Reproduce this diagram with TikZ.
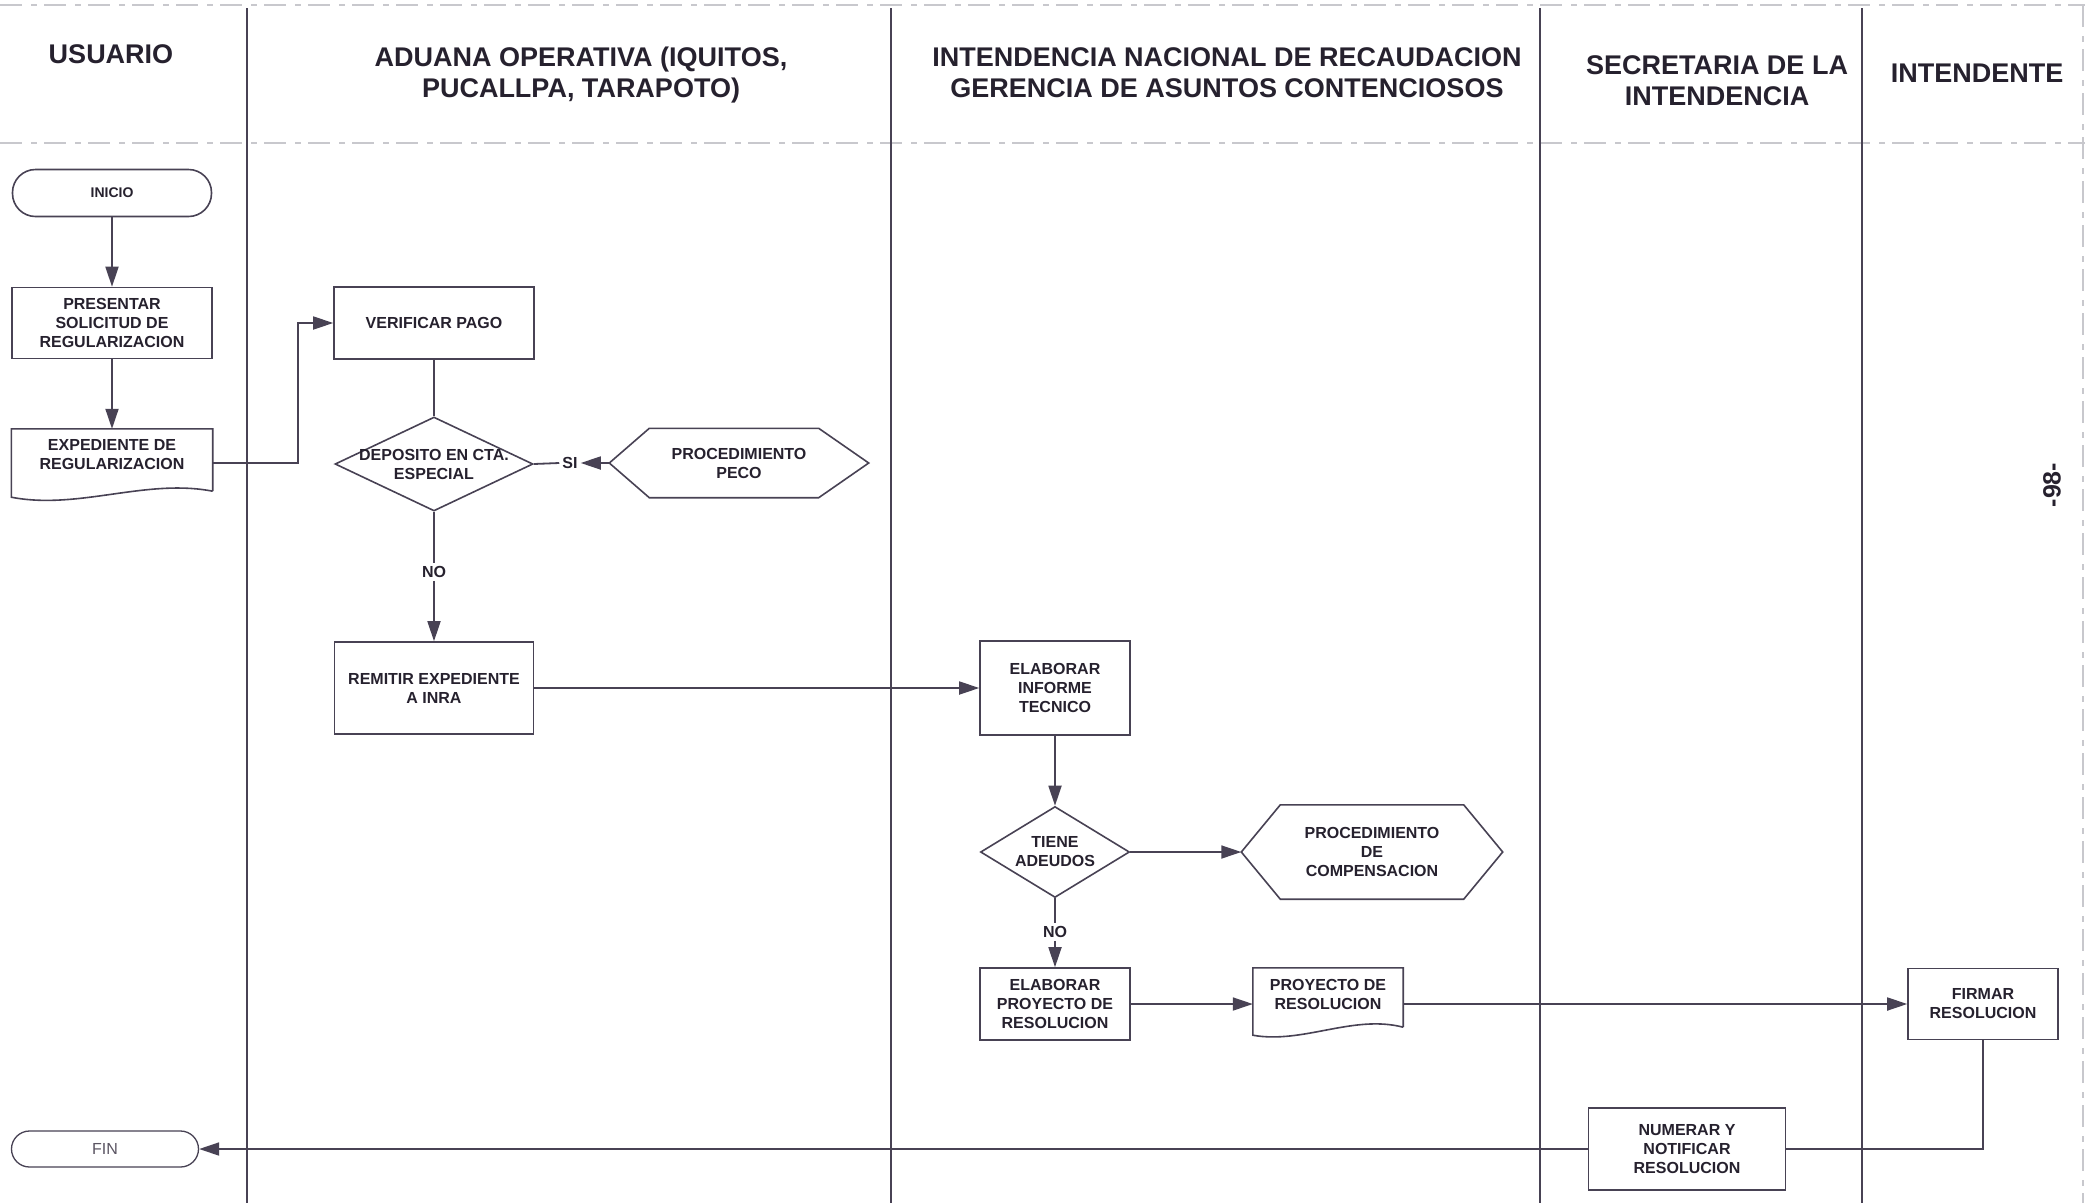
\documentclass[tikz,border=0pt]{standalone}
\usepackage{fontspec}
\setmainfont{Liberation Sans}
\usetikzlibrary{arrows.meta,shapes.geometric,calc}
\definecolor{ln}{RGB}{72,66,84}
\definecolor{tx}{RGB}{38,33,46}
\definecolor{fa}{RGB}{200,200,205}
\definecolor{fintx}{RGB}{90,84,98}
\begin{document}
\begin{tikzpicture}[x=1pt,y=-1pt,
  base/.style={text=tx,font=\bfseries\fontsize{16}{19}\selectfont,align=center,inner sep=0pt},
  proc/.style={base,draw=ln,line width=1.6pt,rectangle},
  dia/.style={draw=ln,line width=1.6pt,diamond,inner sep=0pt},
  lbl/.style={base,inner sep=3pt},
  hdr/.style={text=tx,font=\bfseries\fontsize{27}{31}\selectfont,align=center,inner sep=0pt},
  conn/.style={draw=ln,line width=1.8pt},
  arr/.style={conn,-{Triangle[length=20pt,width=13pt]}},
  lane/.style={draw=ln,line width=2.6pt},
  faint/.style={draw=fa,line width=1.2pt,dash pattern=on 22pt off 9pt on 6pt off 7pt}]
\useasboundingbox[fill=white] (0,0) rectangle (2096,1203);

% frame and lanes
\draw[faint] (0,5) -- (2085,5);
\draw[faint] (0,143) -- (2085,143);
\draw[faint] (2083,5) -- (2083,1203);
\foreach \x in {247,891,1540,1862} \draw[lane] (\x,8) -- (\x,1203);

% headers
\node[hdr] (h1) at (111,54) {USUARIO};
\node[hdr] (h2) at (581,75) {ADUANA OPERATIVA (IQUITOS,\\PUCALLPA, TARAPOTO)};
\node[hdr] (h3) at (1227,73) {INTENDENCIA NACIONAL DE RECAUDACION\\GERENCIA DE ASUNTOS CONTENCIOSOS};
\node[hdr] (h4) at (1717,81) {SECRETARIA DE LA\\INTENDENCIA};
\node[hdr] (h5) at (1977,73) {INTENDENTE};
\node[text=tx,font=\bfseries\fontsize{25}{25}\selectfont,rotate=90,inner sep=0pt] (pg) at (2052,485) {-98-};

% USUARIO lane
\node[proc,rounded corners=23pt,minimum width=199pt,minimum height=47pt,font=\bfseries\fontsize{14}{17}\selectfont] (inicio) at (112,193) {INICIO};
\node[proc,minimum width=200pt,minimum height=71pt] (pres) at (112,323) {PRESENTAR\\SOLICITUD DE\\REGULARIZACION};
\node[base,minimum width=201pt,minimum height=52pt] (expd) at (112,455) {EXPEDIENTE DE\\REGULARIZACION};
\draw[conn,line width=1.6pt] ($(expd.south east)+(0,10)$) -- (expd.north east) -- (expd.north west) -- ($(expd.south west)+(0,16)$)
  .. controls ($(expd.south west)+(67,29)$) and ($(expd.south east)+(-67,-3)$) .. ($(expd.south east)+(0,10)$);
\node[proc,rounded corners=18pt,minimum width=187pt,minimum height=36pt,line width=1.3pt,text=fintx,font=\fontsize{16}{19}\selectfont] (fin) at (105,1149) {FIN};

% ADUANA lane
\node[proc,minimum width=200pt,minimum height=72pt] (verif) at (434,323) {VERIFICAR PAGO};
\node[dia,minimum width=198pt,minimum height=94pt] (dep) at (434,464) {};
\node[base] (dept) at (dep.center) {DEPOSITO EN CTA.\\ESPECIAL};
\node[lbl] (si) at (570,463) {SI};
\node[base,minimum width=259pt,minimum height=69pt] (peco) at (739,463) {PROCEDIMIENTO\\PECO};
\draw[conn,line width=1.6pt] (peco.west) -- ([xshift=40pt]peco.north west) -- ([xshift=-50pt]peco.north east) -- (peco.east)
  -- ([xshift=-50pt]peco.south east) -- ([xshift=40pt]peco.south west) -- cycle;
\node[lbl] (no1) at (434,572) {NO};
\node[proc,minimum width=199pt,minimum height=92pt] (remit) at (434,688) {REMITIR EXPEDIENTE\\A INRA};

% INTENDENCIA lane
\node[proc,minimum width=150pt,minimum height=94pt] (info) at (1055,688) {ELABORAR\\INFORME\\TECNICO};
\node[dia,minimum width=149pt,minimum height=91pt] (ade) at (1055,852) {};
\node[base] (adet) at (ade.center) {TIENE\\ADEUDOS};
\node[base,minimum width=261pt,minimum height=94pt] (comp) at (1372,852) {PROCEDIMIENTO\\DE\\COMPENSACION};
\draw[conn,line width=1.6pt] (comp.west) -- ([xshift=39pt]comp.north west) -- ([xshift=-39pt]comp.north east) -- (comp.east)
  -- ([xshift=-39pt]comp.south east) -- ([xshift=39pt]comp.south west) -- cycle;
\node[lbl] (no2) at (1055,932) {NO};
\node[proc,minimum width=150pt,minimum height=72pt] (elab) at (1055,1004) {ELABORAR\\PROYECTO DE\\RESOLUCION};
\node[base,minimum width=150pt,minimum height=52pt] (proy) at (1328,994) {PROYECTO DE\\RESOLUCION};
\draw[conn,line width=1.6pt] ($(proy.south east)+(0,7)$) -- (proy.north east) -- (proy.north west) -- ($(proy.south west)+(0,15)$)
  .. controls ($(proy.south west)+(50,24)$) and ($(proy.south east)+(-50,-6)$) .. ($(proy.south east)+(0,7)$);

% SECRETARIA and INTENDENTE lanes
\node[proc,minimum width=197pt,minimum height=82pt] (num) at (1687,1149) {NUMERAR Y\\NOTIFICAR\\RESOLUCION};
\node[proc,minimum width=150pt,minimum height=71pt] (firm) at (1983,1004) {FIRMAR\\RESOLUCION};

% connectors
\draw[arr] (inicio.south) -- (pres.north);
\draw[arr] (pres.south) -- (expd.north);
\draw[arr] ($(expd.east)+(0,8)$) -- ++(85,0) |- (verif.west);
\draw[conn] (verif.south) -- (dep.north);
\draw[conn] (dep.east) -- (si.west);
\draw[arr] (peco.west) -- (si.east);
\draw[conn] (dep.south) -- (no1.north);
\draw[arr] (no1.south) -- (remit.north);
\draw[arr] (remit.east) -- (info.west);
\draw[arr] (info.south) -- (ade.north);
\draw[arr] (ade.east) -- (comp.west);
\draw[conn] (ade.south) -- (no2.north);
\draw[arr] (no2.south) -- (elab.north);
\draw[arr] (elab.east) -- (elab.east -| proy.west);
\draw[arr] (proy.east |- firm.west) -- (firm.west);
\draw[conn] (firm.south) |- (num.east);
\draw[arr] (num.west) -- (fin.east);
\end{tikzpicture}
\end{document}
